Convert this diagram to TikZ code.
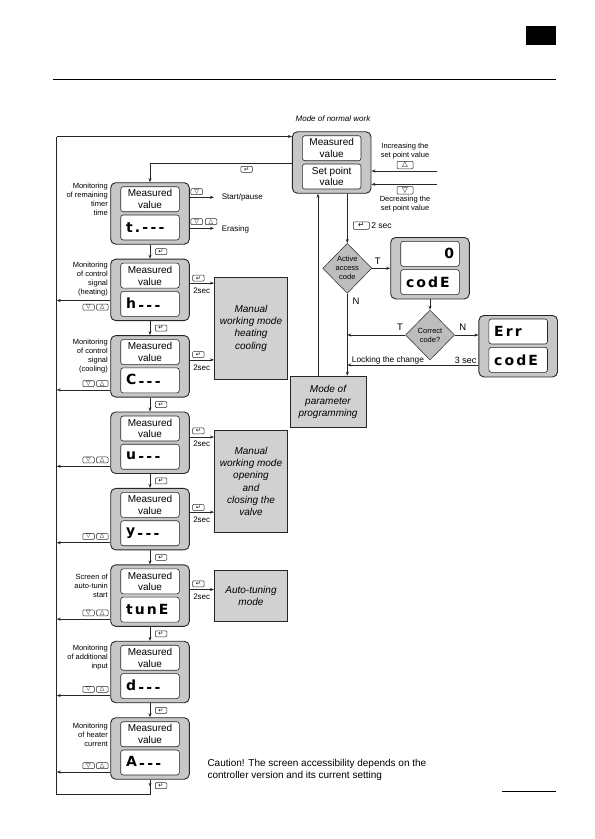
\documentclass[tikz,border=0pt]{standalone}
\usepackage{fontspec}
\setmainfont{Liberation Sans}
\newfontfamily\symfont{DejaVu Sans}
\newfontfamily\segfont{DejaVu Sans}[LetterSpace=15]
\usetikzlibrary{arrows.meta,shapes.geometric,positioning}
\definecolor{panelgray}{gray}{0.78}
\definecolor{modegray}{gray}{0.82}
\definecolor{askgray}{gray}{0.74}
\definecolor{inkgray}{gray}{0.15}
\newcommand{\lowdash}{\raisebox{-2.5pt}{-}}
\tikzset{
	panel/.style={draw=inkgray, line width=0.9pt, fill=panelgray, rounded corners=5pt, minimum width=78.6pt, minimum height=61.5pt, inner sep=0pt},
	window/.style={draw=inkgray, line width=0.6pt, fill=white, rounded corners=2.5pt, minimum width=58.6pt, minimum height=25pt, inner sep=0pt, align=center, font=\fontsize{10}{11.7}\selectfont},
	digits/.style={window, text width=48pt, align=left, font=\segfont\bfseries\fontsize{14}{14}\selectfont},
	mode/.style={draw=inkgray, line width=0.6pt, fill=modegray, minimum width=73.4pt, inner sep=0pt, align=center, font=\itshape\fontsize{10}{12.2}\selectfont},
	ask/.style={diamond, draw=inkgray, line width=0.5pt, fill=askgray, minimum width=49pt, minimum height=50pt, inner sep=0pt, align=center, font=\fontsize{7.5}{9}\selectfont},
	key/.style={draw=inkgray, line width=0.5pt, rounded corners=1pt, minimum width=11.5pt, minimum height=6pt, inner sep=0pt, font=\symfont\fontsize{6}{6}\selectfont},
	bigkey/.style={key, minimum width=16pt, minimum height=7.5pt, font=\symfont\fontsize{7.5}{7.5}\selectfont},
	note/.style={inner sep=0pt, align=right, font=\fontsize{7.5}{9}\selectfont},
	tag/.style={inner sep=0pt, font=\fontsize{8}{9}\selectfont},
	letter/.style={inner sep=0pt, font=\fontsize{9.5}{10}\selectfont},
	flow/.style={draw=inkgray, line width=0.6pt, -{Stealth[length=4pt,width=3pt]}},
	wire/.style={draw=inkgray, line width=0.6pt}
}
\begin{document}
\begin{tikzpicture}[x=1pt,y=-1pt]
	\useasboundingbox (0,0) rectangle (595,839);
	\fill (526,26) rectangle (556,45);
	\draw[line width=0.8pt] (53,79.3) -- (556,79.3);
	\draw[line width=0.8pt] (502,791.5) -- (556,791.5);

	\node[tag, font=\itshape\fontsize{8}{9}\selectfont] (normtitle) at (333,118.3) {Mode of normal work};
	\node[panel] (normal) at (331.7,162.5) {};
	\node[window] (meas) at (331.7,148.2) {Measured\\value};
	\node[window] (setp) at (331.7,176.5) {Set point\\value};

	\node[panel] (code) at (430,268.2) {};
	\node[digits, align=right] (codezero) at (430,253.8) {0\hspace*{8pt}};
	\node[digits] (codeword) at (430,282.1) {codE};
	\node[panel] (err) at (518.2,346.2) {};
	\node[digits] (errword) at (518.2,331.5) {Err};
	\node[digits] (errcode) at (518.2,359.8) {codE};

	\node[ask] (act) at (347.3,268.3) {Active\\access\\code};
	\node[ask] (chk) at (430,335) {Correct\\code?};
	\node[mode, minimum width=76pt, minimum height=51.7pt] (prog) at (328,401.9) {Mode of\\parameter\\programming};
	\node[mode, minimum height=101.7pt] (heat) at (251,328.2) {Manual\\working mode\\heating\\cooling};
	\node[mode, minimum height=101.6pt] (valve) at (251,481.5) {Manual\\working mode\\opening\\and\\closing the\\valve};
	\node[mode, minimum height=50.3pt] (tune) at (251,595.9) {Auto-tuning\\mode};

	\foreach \i/\shown/\lab/\dy in {
		0/{t.\,-\,-\,-}/{Monitoring\\of remaining\\timer\\time}/0.6,
		1/{h\,\lowdash\,\lowdash\,\lowdash}/{Monitoring\\of control\\signal\\(heating)}/3,
		2/{C\,\lowdash\,\lowdash\,\lowdash}/{Monitoring\\of control\\signal\\(cooling)}/3.3,
		3/{u\,\lowdash\,\lowdash\,\lowdash}/{}/0,
		4/{y\,\lowdash\,\lowdash\,\lowdash}/{}/0,
		5/{tunE}/{Screen of\\auto-tunin\\start}/8.7,
		6/{d\,\lowdash\,\lowdash\,\lowdash}/{Monitoring\\of additional\\input}/3.6,
		7/{A\,\lowdash\,\lowdash\,\lowdash}/{Monitoring\\of heater\\current}/5.3}
	{
		\pgfmathsetmacro\py{182.7+76.43*\i}
		\node[panel] (p\i) at (150,\py+30.75) {};
		\node[window] (m\i) at (150,\py+16.5) {Measured\\value};
		\node[digits] (d\i) at (150,\py+44.8) {\shown};
		\node[note, anchor=north east] (l\i) at (108,\py+\dy) {\lab};
	}

	\foreach \i [evaluate=\i as \j using int(\i+1)] in {0,...,6}
	{
		\draw[flow] (p\i.south) -- (p\j.north) node[key, midway, right=5pt] (e\i) {↵};
	}

	\foreach \i/\ay in {1/41.4,2/54.3,3/54.3,4/54.3,5/54.3,6/54.3,7/54.3}
	{
		\pgfmathsetmacro\py{182.7+76.43*\i}
		\coordinate (b\i) at (56.7,\py+\ay);
		\draw[flow] (p\i.west |- b\i) -- (b\i);
		\node[key] (kd\i) at (88.5,\py+48) {▽};
		\node[key] (ku\i) at (102.3,\py+48) {△};
	}

	\foreach \i/\m/\ay in {1/heat/24,2/heat/24.3,3/valve/25,4/valve/23.7,5/tune/24.7}
	{
		\pgfmathsetmacro\py{182.7+76.43*\i}
		\coordinate (r\i) at (0,\py+\ay);
		\draw[flow] (p\i.east |- r\i) -- (\m.west |- r\i);
		\node[key] (k\i) at (198.3,\py+19) {↵};
		\node[tag] (s\i) at (201.7,\py+31.7) {2sec};
	}

	\node[key] (kstart) at (196.7,191.7) {▽};
	\coordinate (startp) at (214,197.3);
	\draw[flow] (p0.east |- startp) -- (startp);
	\node[tag, anchor=west] (startlab) at (221.7,197.7) {Start/pause};
	\node[key] (kerase1) at (196.7,221.7) {▽};
	\node[key] (kerase2) at (211,221.7) {△};
	\coordinate (erase) at (214,228.3);
	\draw[flow] (p0.east |- erase) -- (erase);
	\node[tag, anchor=west] (eraselab) at (221.7,229) {Erasing};

	\coordinate (busTop) at (56.7,136.5);
	\coordinate (busBot) at (56.7,794);
	\coordinate (loopEnd) at (150,794);
	\coordinate (toLeft) at (0,163.3);
	\draw[flow] (busTop) -- (normal.west |- busTop);
	\draw[flow] (normal.west |- toLeft) -| (p0.north);
	\node[key] (kback) at (246.7,169.3) {↵};
	\draw[flow] (p7.south) -- ([yshift=-7pt]p7.south);
	\draw[wire] (p7.south) -- (loopEnd) -- (busBot) -- (busTop);
	\node[key] (kend) at (161,785.7) {↵};

	\coordinate (upIn) at (437,171);
	\coordinate (dnIn) at (437,184.3);
	\draw[flow] (upIn) -- (normal.east |- upIn);
	\draw[flow] (dnIn) -- (normal.east |- dnIn);
	\node[note, align=center] (inclab) at (405,151) {Increasing the\\set point value};
	\node[bigkey] (kup) at (405,165) {△};
	\node[bigkey] (kdn) at (405,190.3) {▽};
	\node[note, align=center] (declab) at (405,204.5) {Decreasing the\\set point value};

	\draw[flow] (normal.south -| act.north) -- (act.north);
	\node[bigkey] (ent2) at (361.3,225.5) {↵};
	\node[tag, font=\fontsize{8.5}{9}\selectfont, right=1.5pt of ent2] (twosec) {2 sec};
	\draw[flow] (act.east) -- (code.west |- act.east);
	\node[letter] (actT) at (377.7,261) {T};
	\draw[flow] (act.south) -- (act.south |- prog.north);
	\node[letter] (actN) at (356,301.7) {N};
	\draw[flow] (code.south) -- (chk.north);
	\draw[flow] (chk.west) -- (act.south |- chk.west);
	\node[letter] (chkT) at (400,327.3) {T};
	\draw[flow] (chk.east) -- (err.west |- chk.east);
	\node[letter] (chkN) at (462.7,327) {N};
	\coordinate (lock) at (0,365);
	\draw[flow] (err.west |- lock) -- (act.south |- lock);
	\node[tag, font=\fontsize{9}{10}\selectfont, anchor=east] (threesec) at (476.5,360) {3 sec};
	\node[tag, font=\fontsize{8.3}{9}\selectfont, anchor=west] (locklab) at (351.7,360) {Locking the change};
	\draw[flow] ([xshift=-10pt]prog.north) -- ([xshift=-10pt]prog.north |- normal.south);

	\node[inner sep=0pt, anchor=north west, align=left, font=\fontsize{10}{11.7}\selectfont] (caution) at (207.3,759.5) {Caution! The screen accessibility depends on the\\controller version and its current setting};
\end{tikzpicture}
\end{document}
